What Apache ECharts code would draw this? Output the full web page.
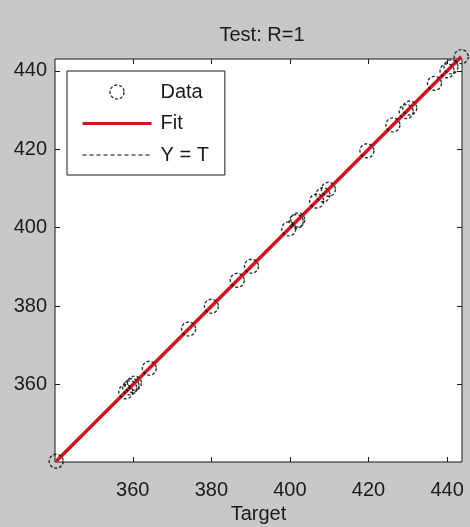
<!DOCTYPE html>
<html>
<head>
<meta charset="utf-8">
<script src="https://cdn.jsdelivr.net/npm/echarts@6/dist/echarts.min.js"></script>
<style>
  html, body { margin: 0; padding: 0; background: #c8c8c8; }
  #chart { width: 470px; height: 527px; }
</style>
</head>
<body>
<div id="chart"></div>
<script>
// values
const targets = [340.5, 358.2, 359.2, 359.8, 360.4, 364.2, 374.2, 380.0, 386.6, 390.2,
  399.7, 401.6, 402.0, 406.8, 408.4, 409.8, 419.6, 426.2, 429.6, 430.5, 436.8, 440.0, 441.0, 443.6];
const outputs = [340.5, 358.2, 359.2, 359.8, 360.4, 364.2, 374.2, 380.0, 386.6, 390.2,
  399.7, 401.6, 402.0, 406.8, 408.4, 409.8, 419.6, 426.2, 429.6, 430.5, 436.8, 440.0, 441.0, 443.6];
const fitEnds = [340.5, 443.6];
const tickValues = [360, 380, 400, 420, 440];
const xRange = [340.2, 443.8];
const yRange = [340.3, 443.0];

const font = '"Liberation Sans", Arial, sans-serif';
const ink = '#1a1a1a';

const chart = echarts.init(document.getElementById('chart'));

const tickStyle = {
  show: true, inside: true, length: 5,
  customValues: tickValues,
  lineStyle: { color: ink, width: 1 }
};

const baseAxis = {
  type: 'value',
  axisLine: { show: false },
  splitLine: { show: false }
};

const circleStyle = { color: 'rgba(0,0,0,0)', borderColor: '#000000', borderWidth: 1.4, borderType: [3, 2] };

chart.setOption({
  backgroundColor: '#c8c8c8',
  animation: false,
  title: {
    text: 'Test: R=1',
    left: 257, top: 20, textAlign: 'center',
    textStyle: { fontFamily: font, fontSize: 20, fontWeight: 'normal', color: ink }
  },
  grid: {
    left: 55, top: 59, width: 407, height: 403,
    outerBoundsMode: 'none',
    show: true, backgroundColor: '#ffffff',
    borderColor: ink, borderWidth: 1
  },
  legend: {
    orient: 'vertical',
    left: 67, top: 71,
    backgroundColor: '#ffffff',
    borderColor: ink, borderWidth: 1, borderRadius: 0,
    padding: [11, 16, 10, 14],
    itemWidth: 69, itemHeight: 14, itemGap: 11.5,
    textStyle: { fontFamily: font, fontSize: 20, lineHeight: 20, color: ink, padding: [0, 0, 0, 4] },
    data: [
      { name: 'Data', itemStyle: circleStyle },
      { name: 'Fit', itemStyle: { opacity: 0 }, lineStyle: { width: 3, color: '#d2141e' } },
      { name: 'Y = T', itemStyle: { opacity: 0 }, lineStyle: { width: 1, color: '#000000', type: [4, 3] } }
    ]
  },
  xAxis: [
    Object.assign({}, baseAxis, {
      min: xRange[0], max: xRange[1], position: 'bottom',
      axisTick: tickStyle,
      axisLabel: { customValues: tickValues, margin: 18, fontFamily: font, fontSize: 20, color: ink },
      name: 'Target', nameLocation: 'middle', nameGap: 40,
      nameTextStyle: { fontFamily: font, fontSize: 20, color: ink }
    }),
    Object.assign({}, baseAxis, {
      min: xRange[0], max: xRange[1], position: 'top',
      axisTick: tickStyle, axisLabel: { show: false }
    })
  ],
  yAxis: [
    Object.assign({}, baseAxis, {
      min: yRange[0], max: yRange[1], position: 'left',
      axisTick: tickStyle,
      axisLabel: { customValues: tickValues, margin: 8, fontFamily: font, fontSize: 20, color: ink }
    }),
    Object.assign({}, baseAxis, {
      min: yRange[0], max: yRange[1], position: 'right',
      axisTick: tickStyle, axisLabel: { show: false }
    })
  ],
  series: [
    {
      name: 'Y = T', type: 'line', clip: false, symbol: 'none',
      data: fitEnds.map(v => [v, v]),
      lineStyle: { color: '#000000', width: 1, type: [4, 3] },
      itemStyle: { color: '#000000' },
      z: 1
    },
    {
      name: 'Fit', type: 'line', clip: false, symbol: 'none',
      data: fitEnds.map(v => [v, v]),
      lineStyle: { color: '#d2141e', width: 3.5 },
      itemStyle: { color: '#d2141e' },
      z: 2
    },
    {
      name: 'Data', type: 'scatter', clip: false,
      symbol: 'circle', symbolSize: 14,
      data: targets.map((t, i) => [t, outputs[i]]),
      itemStyle: circleStyle,
      z: 3
    }
  ]
});
</script>
</body>
</html>
